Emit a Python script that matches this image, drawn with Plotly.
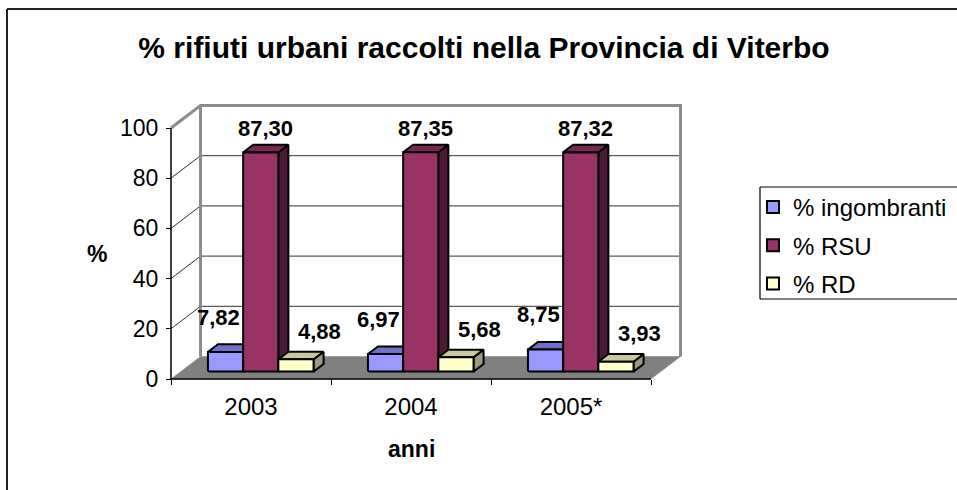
import plotly.graph_objects as go

# ---------------- data ----------------
categories = ["2003", "2004", "2005*"]
series_names = ["% ingombranti", "% RSU", "% RD"]
ingombranti = [7.82, 6.97, 8.75]
rsu = [87.30, 87.35, 87.32]
rd = [4.88, 5.68, 3.93]
label_ingombranti = ["7,82", "6,97", "8,75"]
label_rsu = ["87,30", "87,35", "87,32"]
label_rd = ["4,88", "5,68", "3,93"]
y_ticks = [0, 20, 40, 60, 80, 100]

values = [ingombranti, rsu, rd]
labels = [label_ingombranti, label_rsu, label_rd]

# ---------------- styling / geometry ----------------
front_cols = ["#9999FF", "#993366", "#FFFFCC"]
top_cols = ["#7070C8", "#76284F", "#C8C89C"]
side_cols = ["#505088", "#4C1A34", "#9C9C7C"]

FONT = "Arial, Liberation Sans, sans-serif"
W, H = 957, 490
ML, MR, MT, MB = 167, 275, 104, 108
PW, PH = W - ML - MR, H - MT - MB
XPX = 160.0           # px per category
YPX = 2.51            # px per unit
X0 = -0.5 - 4 / XPX
X1 = X0 + PW / XPX
Y0 = -3 / YPX
Y1 = Y0 + PH / YPX
DX = 29.5 / XPX       # depth offset (data units)
DY = 22.5 / YPX
F0, F1 = 0.33, 0.67   # bar depth fractions
BW = 0.22             # bar width
YMAX = 100


def px2paper_x(p):
    return (p - ML) / PW


def px2paper_y(p):
    return (H - MB - p) / PH


fig = go.Figure()


def poly(xs, ys, fill, line_col, lw, close=True):
    if close:
        xs = list(xs) + [xs[0]]
        ys = list(ys) + [ys[0]]
    fig.add_trace(go.Scatter(
        x=xs, y=ys, mode="lines", fill="toself" if fill else None,
        fillcolor=fill, line=dict(color=line_col, width=lw),
        hoverinfo="skip", showlegend=False))


def seg(xs, ys, col, lw):
    fig.add_trace(go.Scatter(x=xs, y=ys, mode="lines",
                             line=dict(color=col, width=lw),
                             hoverinfo="skip", showlegend=False))


ncat = len(categories)
xl, xr = -0.5, ncat - 0.5
# back wall
poly([xl + DX, xr + DX, xr + DX, xl + DX], [DY, DY, YMAX + DY, YMAX + DY],
     "white", "rgba(0,0,0,0)", 0)
# left side wall
poly([xl, xl + DX, xl + DX, xl], [0, DY, YMAX + DY, YMAX],
     "white", "rgba(0,0,0,0)", 0)
# floor
poly([xl, xr, xr + DX, xl + DX], [0, 0, DY, DY], "#808080", "#808080", 0.5)
# gridlines
for t in y_ticks[1:-1]:
    seg([xl, xl + DX, xr + DX], [t, t + DY, t + DY], "#303030", 1)
# wall borders
seg([xl, xl + DX, xr + DX, xr + DX], [YMAX, YMAX + DY, YMAX + DY, DY], "#8C8C8C", 3)
seg([xl + DX, xl + DX], [DY, YMAX + DY], "#8C8C8C", 3)

# bars
annotations = []
xshifts = [-12, 0, 19]
yshifts = [31, 20, 24]
for i in range(ncat):
    for j in range(3):
        v = values[j][i]
        left = i - 1.5 * BW + j * BW + F0 * DX
        right = left + BW
        b0 = F0 * DY
        dd = (F1 - F0) * DX
        ddy = (F1 - F0) * DY
        # side
        poly([right, right + dd, right + dd, right],
             [b0, b0 + ddy, b0 + v + ddy, b0 + v], side_cols[j], "black", 2)
        # top
        poly([left, right, right + dd, left + dd],
             [b0 + v, b0 + v, b0 + v + ddy, b0 + v + ddy], top_cols[j], "black", 2)
        # front
        poly([left, right, right, left],
             [b0, b0, b0 + v, b0 + v], front_cols[j], "black", 2)
        annotations.append(dict(
            x=(left + right) / 2 + dd / 2, y=b0 + v + ddy / 2,
            xref="x", yref="y", text="<b>%s</b>" % labels[j][i],
            showarrow=False, xshift=xshifts[j], yshift=yshifts[j],
            xanchor="center", yanchor="middle",
            font=dict(family=FONT, size=22, color="black")))

# axis lines (front)
seg([xl, xr], [0, 0], "black", 1.5)
seg([xl, xl], [0, YMAX], "black", 1.5)

# legend entries
for j in range(3):
    fig.add_trace(go.Scatter(
        x=[None], y=[None], mode="markers", name=series_names[j],
        legendgroup="g%d" % j,
        marker=dict(symbol="square", size=12, color=front_cols[j],
                    line=dict(color="black", width=2))))

annotations.append(dict(x=px2paper_x(97), y=50, xref="paper", yref="y",
                        xanchor="center", yanchor="middle",
                        text="<b>%</b>", showarrow=False,
                        font=dict(family=FONT, size=23, color="black")))
annotations.append(dict(x=1, y=px2paper_y(449), xref="x", yref="paper",
                        xanchor="center", yanchor="middle",
                        text="<b>anni</b>", showarrow=False,
                        font=dict(family=FONT, size=23, color="black")))

# legend frame (open to the right, as in the original) and outer chart frame
lx0, lx1 = px2paper_x(760), px2paper_x(957)
ly0, ly1 = px2paper_y(299), px2paper_y(187)
shapes = [
    dict(type="line", xref="paper", yref="paper", x0=px2paper_x(7), x1=px2paper_x(957),
         y0=px2paper_y(9), y1=px2paper_y(9), line=dict(color="#222222", width=2)),
    dict(type="line", xref="paper", yref="paper", x0=px2paper_x(7), x1=px2paper_x(7),
         y0=px2paper_y(9), y1=px2paper_y(490), line=dict(color="#222222", width=2)),
    dict(type="line", xref="paper", yref="paper", x0=lx0, x1=lx1, y0=ly1, y1=ly1,
         line=dict(color="black", width=1.2)),
    dict(type="line", xref="paper", yref="paper", x0=lx0, x1=lx1, y0=ly0, y1=ly0,
         line=dict(color="black", width=1.2)),
    dict(type="line", xref="paper", yref="paper", x0=lx0, x1=lx0, y0=ly0, y1=ly1,
         line=dict(color="black", width=1.2)),
]

fig.update_layout(
    width=W, height=H,
    margin=dict(l=ML, r=MR, t=MT, b=MB, autoexpand=False),
    paper_bgcolor="white", plot_bgcolor="rgba(0,0,0,0)",
    title=dict(text="<b>% rifiuti urbani raccolti nella Provincia di Viterbo</b>",
               x=484 / W, xref="container", xanchor="center",
               y=1 - 47 / H, yref="container", yanchor="middle",
               font=dict(family=FONT, size=30, color="black")),
    xaxis=dict(range=[X0, X1], anchor="free", position=(0 - Y0) / (Y1 - Y0),
               tickmode="array", tickvals=list(range(ncat)), ticktext=categories,
               ticks="", showgrid=False, zeroline=False, showline=False,
               ticklabelstandoff=11,
               tickfont=dict(family=FONT, size=24, color="black"),
               minor=dict(tickmode="array",
                          tickvals=[k - 0.5 for k in range(ncat + 1)],
                          ticks="outside", ticklen=5, tickcolor="black",
                          tickwidth=1, showgrid=False)),
    yaxis=dict(range=[Y0, Y1], anchor="free", position=(-0.5 - X0) / (X1 - X0),
               tickmode="array", tickvals=y_ticks, ticks="outside", ticklen=5,
               tickcolor="black", showgrid=False, zeroline=False, showline=False,
               ticklabelstandoff=3,
               tickfont=dict(family=FONT, size=23, color="black")),
    showlegend=True,
    legend=dict(x=px2paper_x(753), y=px2paper_y(185), xref="paper", yref="paper",
                xanchor="left", yanchor="top", bgcolor="rgba(0,0,0,0)",
                borderwidth=0, traceorder="grouped",
                font=dict(family=FONT, size=24, color="black"),
                tracegroupgap=4),
    annotations=annotations,
    shapes=shapes,
)

fig.write_html("out.html", config={"displayModeBar": False},
               post_script="document.body.style.margin='0px';")
